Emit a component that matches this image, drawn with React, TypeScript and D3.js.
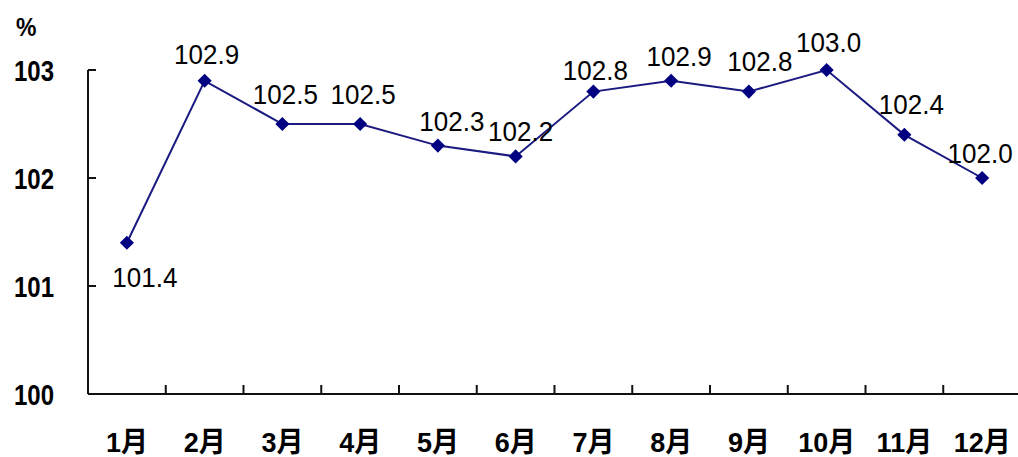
import React from "react";
import * as d3 from "d3";

const months = ["1月", "2月", "3月", "4月", "5月", "6月", "7月", "8月", "9月", "10月", "11月", "12月"];
const values = [101.4, 102.9, 102.5, 102.5, 102.3, 102.2, 102.8, 102.9, 102.8, 103.0, 102.4, 102.0];
const yTicks = [100, 101, 102, 103];
// label placement offsets relative to each point (dx, baseline dy)
const labelDx = [18, 2, 3, 3, 14, 5, 2, 8, 11, 2, 7, -2];
const labelDy = [44, -17, -20, -20, -15, -15, -12, -15, -21, -18, -21, -15];

const W = 1018;
const H = 457;
const FONT = "'Liberation Sans', Arial, 'Noto Sans CJK SC', sans-serif";

export default function App() {
  const x = d3.scaleBand<string>().domain(months).range([88, 1021]).paddingInner(0).paddingOuter(0);
  const y = d3.scaleLinear().domain([100, 103]).range([394, 70]);
  const cx = (m: string) => (x(m) as number) + x.bandwidth() / 2;
  const pts: [number, number][] = months.map((m, i) => [cx(m), y(values[i])]);
  const line = d3.line<[number, number]>().x((d) => d[0]).y((d) => d[1]);
  const square = d3.symbol().type(d3.symbolSquare).size(100)();
  const bounds = months.map((m) => x(m) as number).slice(1);

  return (
    <svg
      width={W}
      height={H}
      style={{ position: "absolute", left: 0, top: 0, background: "#fff" }}
      fontFamily={FONT}
    >
      <rect x={0} y={0} width={W} height={H} fill="#fff" />
      {/* y axis */}
      <line x1={88} x2={88} y1={y(103)} y2={y(100)} stroke="#111" strokeWidth={2} />
      {yTicks.map((t) => (
        <g key={t}>
          <line x1={88} x2={96} y1={y(t)} y2={y(t)} stroke="#111" strokeWidth={2} />
          <text
            transform={`translate(54,${y(t) + 11}) scale(1,1.2)`}
            textAnchor="end"
            fontSize={24}
            fontWeight="bold"
            fill="#000"
          >
            {t}
          </text>
        </g>
      ))}
      <text transform="translate(16,36) scale(1,1.1)" fontSize={23} fontWeight="bold" fill="#000">%</text>
      {/* x axis */}
      <line x1={88} x2={1021} y1={y(100)} y2={y(100)} stroke="#111" strokeWidth={2} />
      {bounds.map((b, i) => (
        <line key={i} x1={b} x2={b} y1={y(100)} y2={y(100) - 9} stroke="#111" strokeWidth={2} />
      ))}
      {months.map((m) => (
        <text
          key={m}
          transform={`translate(${cx(m)},452) scale(1,1.05)`}
          textAnchor="middle"
          fontSize={27}
          fontWeight="bold"
          fill="#000"
        >
          {m}
        </text>
      ))}
      {/* series */}
      <path d={line(pts) || ""} fill="none" stroke="#1a1a80" strokeWidth={2} />
      {pts.map((p, i) => (
        <path key={i} d={square || ""} transform={`translate(${p[0]},${p[1]}) rotate(45)`} fill="#000080" />
      ))}
      {pts.map((p, i) => (
        <text
          key={"l" + i}
          transform={`translate(${p[0] + labelDx[i]},${p[1] + labelDy[i]}) scale(1,1.08)`}
          textAnchor="middle"
          fontSize={26}
          fill="#000"
        >
          {values[i].toFixed(1)}
        </text>
      ))}
    </svg>
  );
}
